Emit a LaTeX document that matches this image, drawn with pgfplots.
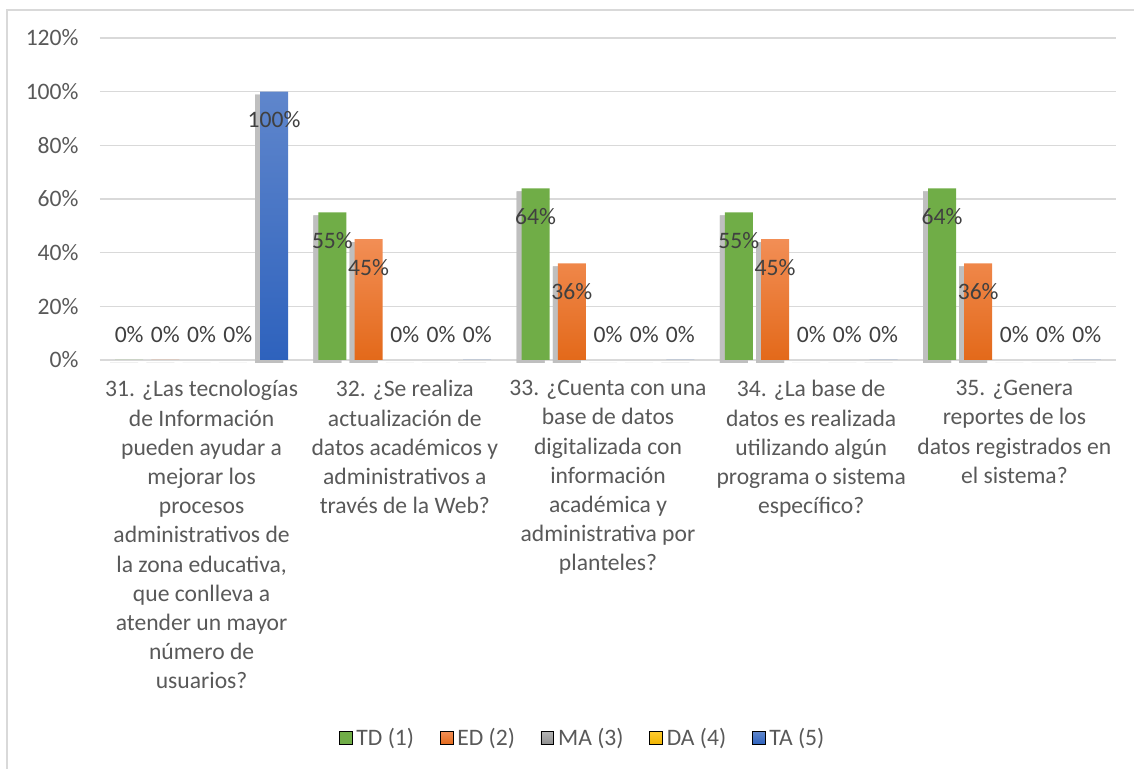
\documentclass[border=0pt]{standalone}
\usepackage{fontspec}
\setmainfont{Carlito}
\usepackage{pgfplots}
\pgfplotsset{compat=1.18}

\definecolor{tdgreen}{HTML}{70AD47}
\definecolor{edtop}{HTML}{F28E55}
\definecolor{edbot}{HTML}{E3691A}
\definecolor{matop}{HTML}{B3B3B3}
\definecolor{mabot}{HTML}{8E8E8E}
\definecolor{datop}{HTML}{FFCB2E}
\definecolor{dabot}{HTML}{F0B400}
\definecolor{tatop}{HTML}{5F86CC}
\definecolor{tabot}{HTML}{2E62BD}
\definecolor{gridgray}{HTML}{D9D9D9}
\definecolor{tickgray}{HTML}{595959}
\definecolor{lblgray}{HTML}{404040}

\tikzset{
  barshadow/.style={preaction={draw=none, fill=black!25, top color=black!25, bottom color=black!25,
      transform canvas={xshift=-2.5pt, yshift=-1.5pt}}},
}
\newcommand{\chartfont}{\fontsize{11.8}{14.6}\selectfont}

\begin{document}
\begin{tikzpicture}
\useasboundingbox (-50pt,-204.5pt) rectangle (517pt,180pt);
\draw[gridgray, line width=0.8pt] (-46.5pt,-204.5pt) -- (-46.5pt,175pt) -- (517pt,175pt);
\begin{axis}[
   at={(0pt,0pt)}, anchor=south west,
   scale only axis, width=508pt, height=161pt,
   xmin=-0.5, xmax=4.5, ymin=0, ymax=120,
   ybar, bar width=14pt,
   clip=false,
   axis line style={draw=none},
   major tick length=0pt,
   ymajorgrids, grid style={gridgray, line width=0.7pt},
   ytick={0,20,...,120},
   yticklabel={\pgfmathprintnumber{\tick}\%},
   /pgf/number format/assume math mode=true,
   tick label style={font=\chartfont, text=tickgray},
   yticklabel style={xshift=-7.2pt},
   xtick={0,1,2,3,4},
   xticklabel style={align=center, yshift=-6.7pt},
   xticklabels={
     {31. ¿Las tecnologías\\de Información\\pueden ayudar a\\mejorar los\\procesos\\administrativos de\\la zona educativa,\\que conlleva a\\atender un mayor\\número de\\usuarios?},
     {32. ¿Se realiza\\actualización de\\datos académicos y\\administrativos a\\través de la Web?},
     {33. ¿Cuenta con una\\base de datos\\digitalizada con\\información\\académica y\\administrativa por\\planteles?},
     {34. ¿La base de\\datos es realizada\\utilizando algún\\programa o sistema\\específico?},
     {35. ¿Genera\\reportes de los\\datos registrados en\\el sistema?}},
   nodes near coords={\pgfmathprintnumber{\pgfplotspointmeta}\%},
   visualization depends on={y \as \rawy},
   every node near coord/.append style={font=\chartfont, text=lblgray,
       anchor=center, yshift={(\rawy==0)*26.5pt-14pt}},
   legend style={at={(0.476,-1.174)}, anchor=center, draw=none, fill=none,
       legend columns=5, font=\chartfont, text=tickgray,
       /tikz/every even column/.append style={column sep=10.8pt}},
   legend image code/.code={\fill[#1] (0pt,-3.2pt) rectangle (6.4pt,3.2pt);},
]
% TD (1)
\addplot[draw=none, fill=tdgreen, barshadow, bar shift=-36.2pt, forget plot]
  coordinates {(0,0) (1,55) (2,64) (3,55) (4,64)};
% ED (2)
\addplot[draw=none, top color=edtop, bottom color=edbot, barshadow, bar shift=-18.1pt, forget plot]
  coordinates {(0,0) (1,45) (2,36) (3,45) (4,36)};
% MA (3)
\addplot[draw=none, top color=matop, bottom color=mabot, barshadow, bar shift=0pt, forget plot]
  coordinates {(0,0) (1,0) (2,0) (3,0) (4,0)};
% DA (4)
\addplot[draw=none, top color=datop, bottom color=dabot, barshadow, bar shift=18.1pt, forget plot]
  coordinates {(0,0) (1,0) (2,0) (3,0) (4,0)};
% TA (5)
\addplot[draw=none, top color=tatop, bottom color=tabot, barshadow, bar shift=36.2pt, forget plot]
  coordinates {(0,100) (1,0) (2,0) (3,0) (4,0)};

\addlegendimage{fill=tdgreen}
\addlegendentry{TD (1)}
\addlegendimage{top color=edtop, bottom color=edbot}
\addlegendentry{ED (2)}
\addlegendimage{top color=matop, bottom color=mabot}
\addlegendentry{MA (3)}
\addlegendimage{top color=datop, bottom color=dabot}
\addlegendentry{DA (4)}
\addlegendimage{top color=tatop, bottom color=tabot}
\addlegendentry{TA (5)}
\end{axis}
\end{tikzpicture}
\end{document}
